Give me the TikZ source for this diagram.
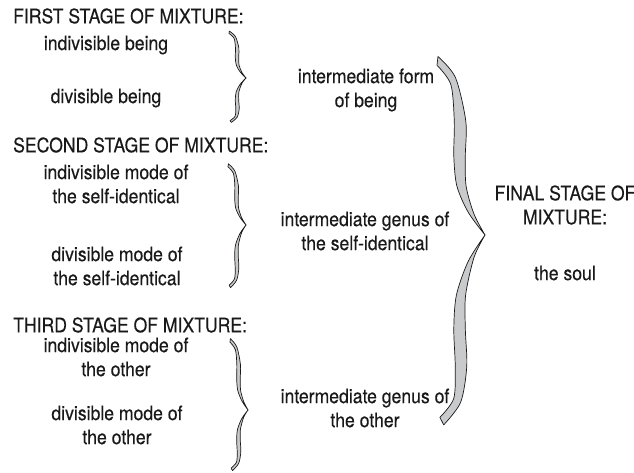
\documentclass[tikz,border=0pt]{standalone}
\usepackage{fontspec}
\setmainfont{TeX Gyre Heros}[FakeStretch=0.88, FakeBold=0.25]

\definecolor{ink}{RGB}{25,25,25}
\definecolor{bracegray}{RGB}{200,202,204}

\tikzset{
  lbl/.style={font=\fontsize{20}{24}\selectfont, align=center, inner sep=0pt, text=ink},
  stage/.style={lbl, anchor=west},
  bracefill/.style={fill=bracegray, draw=ink, line width=0.7pt, line join=round},
}

% brace: left x, top y, tip y, bottom y, width, half thickness (y downwards)
\newcommand{\mixbrace}[6]{%
  \begin{scope}[shift={(#1,-#3)}, xscale=#5, yscale=#3-#2]
    \filldraw[bracefill] plot[smooth] coordinates {(0.02,1.02) (0.36+0.2*#6,0.9) (0.48+#6,0.65) (0.47+#6,0.45) (0.51+0.8*#6,0.28) (0.71+0.5*#6,0.12) (1,0)}
      -- plot[smooth] coordinates {(1,0) (0.71-0.5*#6,0.13) (0.51-0.8*#6,0.28) (0.47-#6,0.45) (0.48-#6,0.65) (0.36-0.6*#6,0.86) (0,0.97)} -- cycle;
  \end{scope}
  \begin{scope}[shift={(#1,-#3)}, xscale=#5, yscale=#4-#3]
    \filldraw[bracefill] plot[smooth] coordinates {(1,0) (0.71+0.5*#6,-0.12) (0.5+0.8*#6,-0.32) (0.47+#6,-0.5) (0.5+#6,-0.7) (0.42+0.6*#6,-0.89) (0.14,-1.01)}
      -- plot[smooth] coordinates {(0.06,-0.97) (0.42-0.6*#6,-0.87) (0.5-#6,-0.7) (0.47-#6,-0.5) (0.5-0.8*#6,-0.32) (0.71-0.5*#6,-0.14) (1,0)} -- cycle;
  \end{scope}
}

\begin{document}
\begin{tikzpicture}[x=1pt, y=1pt]
  \useasboundingbox (0,0) rectangle (634,-473);

  % first stage
  \node[stage] (first) at (13,-16) {FIRST STAGE OF MIXTURE:};
  \node[lbl] (indivbeing) at (106,-45) {indivisible being};
  \node[lbl] (divbeing) at (106,-98) {divisible being};
  \mixbrace{229}{32}{78}{122}{17}{0.1}
  \node[lbl] (formbeing) at (366,-90) {intermediate form\\of being};

  % second stage
  \node[stage] (second) at (13,-145) {SECOND STAGE OF MIXTURE:};
  \node[lbl] (indivsame) at (116,-184) {indivisible mode of\\the self-identical};
  \node[lbl] (divsame) at (117,-266) {divisible mode of\\the self-identical};
  \mixbrace{228}{165}{225}{287}{18}{0.1}
  \node[lbl] (genussame) at (365,-231) {intermediate genus of\\the self-identical};

  % third stage
  \node[stage] (third) at (13,-325) {THIRD STAGE OF MIXTURE:};
  \node[lbl] (indivother) at (116,-357) {indivisible mode of\\the other};
  \node[lbl] (divother) at (117,-425) {divisible mode of\\the other};
  \mixbrace{230}{340}{410}{470}{18}{0.1}
  \node[lbl] (genusother) at (365,-408) {intermediate genus of\\the other};

  % final stage
  \mixbrace{437}{60}{235}{423}{48}{0.12}
  \node[lbl] (final) at (565,-205) {FINAL STAGE OF\\MIXTURE:};
  \node[lbl] (soul) at (565,-273) {the soul};
\end{tikzpicture}
\end{document}
